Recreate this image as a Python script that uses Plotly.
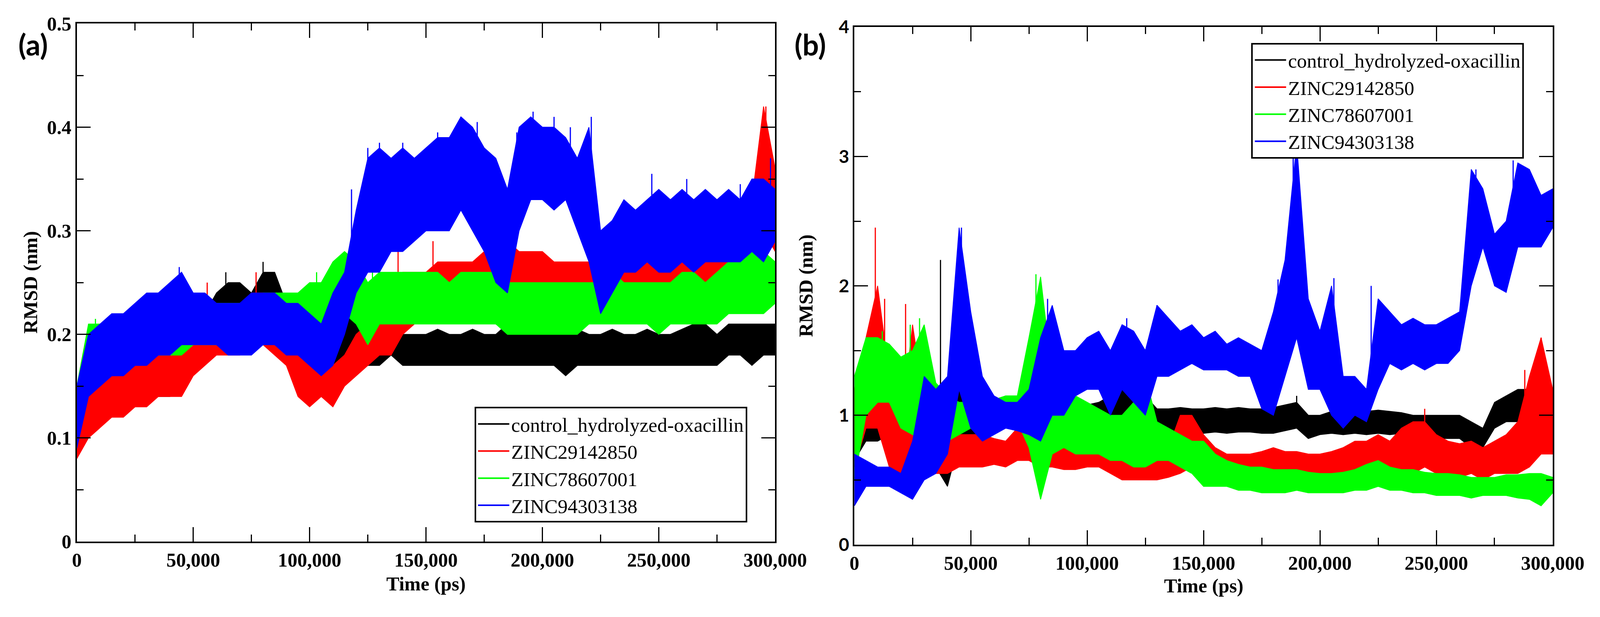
import plotly.graph_objects as go

# === Tiempo (ps): lectura cada 5,000 ps ===
TIME = [0, 5000, 10000, 15000, 20000, 25000, 30000, 35000, 40000, 45000,
        50000, 55000, 60000, 65000, 70000, 75000, 80000, 85000, 90000, 95000,
        100000, 105000, 110000, 115000, 120000, 125000, 130000, 135000, 140000, 145000,
        150000, 155000, 160000, 165000, 170000, 175000, 180000, 185000, 190000, 195000,
        200000, 205000, 210000, 215000, 220000, 225000, 230000, 235000, 240000, 245000,
        250000, 255000, 260000, 265000, 270000, 275000, 280000, 285000, 290000, 295000,
        300000]

NAMES = ['control_hydrolyzed-oxacillin', 'ZINC29142850', 'ZINC78607001', 'ZINC94303138']
COLORS = ['#000000', '#ff0000', '#00ff00', '#0000ff']

# === Panel (a): envolvente min / max del RMSD (nm) ===
A_BLACK_LO = [0.08, 0.12, 0.13, 0.14, 0.14, 0.14, 0.14, 0.14, 0.14, 0.15,
              0.17, 0.18, 0.19, 0.20, 0.20, 0.20, 0.21, 0.20, 0.19, 0.18,
              0.18, 0.18, 0.17, 0.18, 0.18, 0.17, 0.17, 0.18, 0.17, 0.17,
              0.17, 0.17, 0.17, 0.17, 0.17, 0.17, 0.17, 0.17, 0.17, 0.17,
              0.17, 0.17, 0.16, 0.17, 0.17, 0.17, 0.17, 0.17, 0.17, 0.17,
              0.17, 0.17, 0.17, 0.17, 0.17, 0.17, 0.18, 0.18, 0.17, 0.18,
              0.18]
A_BLACK_HI = [0.12, 0.15, 0.16, 0.17, 0.17, 0.17, 0.17, 0.17, 0.18, 0.19,
              0.21, 0.22, 0.24, 0.25, 0.25, 0.24, 0.26, 0.26, 0.23, 0.22,
              0.22, 0.22, 0.21, 0.23, 0.22, 0.21, 0.21, 0.22, 0.20, 0.20,
              0.20, 0.205, 0.20, 0.20, 0.205, 0.20, 0.20, 0.21, 0.215, 0.20,
              0.205, 0.20, 0.20, 0.205, 0.20, 0.20, 0.205, 0.20, 0.20, 0.205,
              0.20, 0.20, 0.205, 0.21, 0.21, 0.20, 0.21, 0.21, 0.21, 0.21,
              0.21]
A_RED_LO = [0.08, 0.10, 0.11, 0.12, 0.12, 0.13, 0.13, 0.14, 0.14, 0.14,
            0.16, 0.17, 0.18, 0.18, 0.18, 0.19, 0.19, 0.18, 0.17, 0.14,
            0.13, 0.14, 0.13, 0.15, 0.16, 0.17, 0.18, 0.18, 0.20, 0.21,
            0.22, 0.22, 0.22, 0.22, 0.22, 0.22, 0.22, 0.23, 0.23, 0.23,
            0.22, 0.22, 0.22, 0.22, 0.22, 0.22, 0.23, 0.22, 0.22, 0.22,
            0.22, 0.22, 0.23, 0.23, 0.23, 0.24, 0.24, 0.24, 0.26, 0.30,
            0.28]
A_RED_HI = [0.12, 0.14, 0.15, 0.16, 0.17, 0.17, 0.18, 0.18, 0.18, 0.19,
            0.21, 0.22, 0.23, 0.22, 0.22, 0.24, 0.24, 0.22, 0.21, 0.18,
            0.17, 0.17, 0.17, 0.18, 0.20, 0.21, 0.22, 0.23, 0.26, 0.26,
            0.26, 0.27, 0.27, 0.27, 0.27, 0.28, 0.28, 0.29, 0.28, 0.28,
            0.28, 0.27, 0.27, 0.27, 0.27, 0.27, 0.29, 0.27, 0.27, 0.27,
            0.27, 0.27, 0.28, 0.28, 0.28, 0.29, 0.29, 0.30, 0.33, 0.42,
            0.36]
A_GREEN_LO = [0.09, 0.15, 0.16, 0.17, 0.17, 0.17, 0.18, 0.18, 0.18, 0.18,
              0.19, 0.19, 0.19, 0.19, 0.19, 0.19, 0.19, 0.20, 0.20, 0.20,
              0.20, 0.21, 0.21, 0.22, 0.21, 0.19, 0.21, 0.21, 0.21, 0.21,
              0.21, 0.21, 0.21, 0.21, 0.21, 0.21, 0.21, 0.20, 0.20, 0.20,
              0.20, 0.20, 0.20, 0.20, 0.21, 0.21, 0.21, 0.21, 0.21, 0.21,
              0.20, 0.21, 0.21, 0.21, 0.21, 0.21, 0.22, 0.22, 0.22, 0.22,
              0.23]
A_GREEN_HI = [0.15, 0.21, 0.21, 0.21, 0.21, 0.22, 0.22, 0.22, 0.22, 0.23,
              0.23, 0.23, 0.23, 0.23, 0.23, 0.23, 0.24, 0.24, 0.24, 0.24,
              0.25, 0.25, 0.27, 0.28, 0.27, 0.25, 0.26, 0.26, 0.26, 0.26,
              0.26, 0.26, 0.25, 0.26, 0.26, 0.26, 0.26, 0.25, 0.25, 0.25,
              0.25, 0.25, 0.25, 0.25, 0.25, 0.25, 0.26, 0.25, 0.25, 0.25,
              0.25, 0.25, 0.26, 0.26, 0.25, 0.26, 0.27, 0.27, 0.28, 0.28,
              0.27]
A_BLUE_LO = [0.09, 0.14, 0.15, 0.16, 0.16, 0.17, 0.17, 0.18, 0.18, 0.19,
             0.19, 0.19, 0.19, 0.18, 0.18, 0.18, 0.19, 0.19, 0.18, 0.18,
             0.17, 0.16, 0.17, 0.20, 0.24, 0.26, 0.26, 0.28, 0.28, 0.29,
             0.30, 0.30, 0.30, 0.32, 0.30, 0.28, 0.25, 0.24, 0.30, 0.33,
             0.33, 0.32, 0.33, 0.30, 0.27, 0.22, 0.24, 0.26, 0.26, 0.27,
             0.26, 0.26, 0.27, 0.26, 0.27, 0.27, 0.27, 0.27, 0.28, 0.27,
             0.29]
A_BLUE_HI = [0.15, 0.20, 0.21, 0.22, 0.22, 0.23, 0.24, 0.24, 0.25, 0.26,
             0.24, 0.24, 0.23, 0.23, 0.23, 0.24, 0.24, 0.24, 0.23, 0.23,
             0.22, 0.21, 0.24, 0.26, 0.32, 0.37, 0.38, 0.37, 0.38, 0.37,
             0.38, 0.39, 0.39, 0.41, 0.40, 0.38, 0.37, 0.34, 0.40, 0.41,
             0.40, 0.40, 0.39, 0.37, 0.40, 0.30, 0.31, 0.33, 0.32, 0.33,
             0.34, 0.33, 0.34, 0.33, 0.34, 0.33, 0.34, 0.33, 0.35, 0.35,
             0.34]

# picos sueltos (tiempo, min, max)
A_SPIKES = [
    [(64000, 0.20, 0.26), (80000, 0.22, 0.27), (122000, 0.20, 0.245),
     (188000, 0.19, 0.22)],
    [(56000, 0.19, 0.25), (77000, 0.20, 0.26), (138000, 0.22, 0.29),
     (153000, 0.24, 0.29), (186000, 0.25, 0.295), (233000, 0.25, 0.30),
     (270000, 0.25, 0.30), (296000, 0.35, 0.42)],
    [(8000, 0.18, 0.215), (103000, 0.22, 0.26), (118000, 0.24, 0.285),
     (127000, 0.22, 0.27), (282000, 0.24, 0.285)],
    [(44000, 0.22, 0.265), (118000, 0.26, 0.34), (125000, 0.30, 0.38),
     (130000, 0.30, 0.385), (140000, 0.30, 0.385), (155000, 0.33, 0.395),
     (165000, 0.35, 0.41), (172000, 0.33, 0.405), (189000, 0.30, 0.395),
     (196000, 0.36, 0.415), (205000, 0.34, 0.41), (212000, 0.33, 0.40),
     (221000, 0.30, 0.41), (247000, 0.28, 0.355), (262000, 0.28, 0.35),
     (285000, 0.28, 0.345), (298000, 0.30, 0.37)],
]

# === Panel (b): envolvente min / max del RMSD (nm) ===
B_BLACK_LO = [0.65, 0.80, 0.80, 0.85, 0.60, 0.60, 0.70, 0.60, 0.45, 0.80,
              0.80, 0.90, 0.90, 0.95, 0.95, 0.95, 0.95, 0.95, 0.95, 0.95,
              0.95, 0.95, 0.85, 0.95, 0.90, 0.75, 0.85, 0.85, 0.86, 0.86,
              0.86, 0.87, 0.86, 0.87, 0.87, 0.86, 0.86, 0.88, 0.90, 0.82,
              0.85, 0.86, 0.85, 0.86, 0.85, 0.86, 0.85, 0.86, 0.84, 0.82,
              0.82, 0.82, 0.82, 0.75, 0.75, 0.90, 0.95, 0.95, 0.95, 0.95,
              0.95]
B_BLACK_HI = [1.20, 1.30, 1.35, 1.30, 1.20, 1.40, 1.30, 1.20, 1.00, 1.20,
              1.40, 1.10, 1.10, 1.10, 1.10, 1.10, 1.10, 1.10, 1.10, 1.10,
              1.08, 1.10, 1.15, 1.35, 1.30, 1.15, 1.05, 1.05, 1.06, 1.05,
              1.05, 1.06, 1.05, 1.06, 1.05, 1.05, 1.06, 1.08, 1.10, 1.00,
              1.00, 1.03, 1.04, 1.03, 1.03, 1.04, 1.03, 1.02, 1.00, 1.00,
              1.00, 1.00, 1.00, 0.95, 0.90, 1.10, 1.15, 1.20, 1.20, 1.15,
              1.20]
B_RED_LO = [0.60, 0.90, 0.90, 0.60, 0.50, 0.60, 0.60, 0.55, 0.55, 0.60,
            0.60, 0.60, 0.62, 0.60, 0.65, 0.65, 0.60, 0.60, 0.58, 0.58,
            0.60, 0.60, 0.55, 0.50, 0.50, 0.50, 0.50, 0.52, 0.55, 0.60,
            0.55, 0.52, 0.48, 0.45, 0.48, 0.50, 0.52, 0.50, 0.52, 0.50,
            0.50, 0.52, 0.52, 0.55, 0.55, 0.55, 0.55, 0.55, 0.55, 0.60,
            0.55, 0.55, 0.52, 0.55, 0.50, 0.55, 0.55, 0.55, 0.60, 0.70,
            0.70]
B_RED_HI = [1.20, 1.60, 2.00, 1.30, 0.90, 1.70, 1.10, 0.85, 0.80, 0.85,
            0.85, 0.85, 0.82, 0.80, 0.90, 0.90, 0.85, 0.80, 0.80, 0.82,
            0.85, 0.80, 0.75, 0.75, 0.70, 0.72, 0.75, 0.75, 1.00, 1.00,
            0.85, 0.75, 0.70, 0.70, 0.70, 0.72, 0.75, 0.72, 0.72, 0.70,
            0.70, 0.72, 0.75, 0.80, 0.80, 0.85, 0.80, 0.90, 0.95, 0.95,
            0.85, 0.80, 0.78, 0.80, 0.75, 0.80, 0.85, 0.95, 1.30, 1.60,
            1.20]
B_GREEN_LO = [0.50, 1.00, 1.10, 1.10, 0.90, 0.85, 0.80, 0.70, 0.80, 0.85,
              0.90, 0.95, 0.95, 0.95, 0.95, 0.75, 0.35, 0.70, 0.75, 0.70,
              0.70, 0.70, 0.65, 0.65, 0.60, 0.60, 0.65, 0.65, 0.60, 0.55,
              0.45, 0.45, 0.45, 0.42, 0.42, 0.40, 0.40, 0.40, 0.42, 0.40,
              0.40, 0.40, 0.40, 0.42, 0.42, 0.45, 0.42, 0.42, 0.40, 0.40,
              0.38, 0.38, 0.38, 0.36, 0.38, 0.38, 0.38, 0.36, 0.35, 0.30,
              0.40]
B_GREEN_HI = [1.30, 1.60, 1.60, 1.55, 1.45, 1.50, 1.70, 1.25, 1.15, 1.10,
              1.10, 1.10, 1.12, 1.15, 1.15, 1.60, 2.07, 1.30, 1.20, 1.15,
              1.10, 1.05, 1.00, 1.00, 1.10, 1.30, 0.95, 0.90, 0.85, 0.80,
              0.80, 0.70, 0.65, 0.62, 0.60, 0.60, 0.58, 0.58, 0.58, 0.56,
              0.55, 0.55, 0.56, 0.58, 0.62, 0.65, 0.60, 0.58, 0.58, 0.56,
              0.55, 0.55, 0.54, 0.52, 0.52, 0.52, 0.54, 0.54, 0.55, 0.55,
              0.52]
B_BLUE_LO = [0.30, 0.45, 0.45, 0.45, 0.40, 0.35, 0.50, 0.55, 0.70, 1.20,
             0.90, 0.80, 0.85, 0.90, 0.88, 0.85, 0.80, 1.00, 1.00, 1.15,
             1.20, 1.20, 1.00, 1.20, 1.10, 1.00, 1.30, 1.30, 1.35, 1.40,
             1.35, 1.35, 1.35, 1.30, 1.30, 1.05, 1.00, 1.30, 1.60, 1.20,
             1.20, 1.00, 0.90, 1.00, 0.95, 1.20, 1.40, 1.35, 1.40, 1.35,
             1.40, 1.40, 1.50, 2.00, 2.30, 2.00, 1.95, 2.30, 2.30, 2.30,
             2.45]
B_BLUE_HI = [0.70, 0.65, 0.60, 0.60, 0.55, 0.80, 1.30, 1.20, 1.30, 2.45,
             1.80, 1.30, 1.15, 1.10, 1.10, 1.20, 1.60, 1.85, 1.50, 1.50,
             1.60, 1.65, 1.50, 1.70, 1.65, 1.50, 1.85, 1.75, 1.65, 1.70,
             1.60, 1.65, 1.55, 1.60, 1.55, 1.50, 1.80, 2.20, 3.10, 1.90,
             1.65, 2.00, 1.30, 1.30, 1.20, 1.90, 1.80, 1.70, 1.75, 1.70,
             1.70, 1.75, 1.80, 2.90, 2.75, 2.40, 2.50, 2.95, 2.90, 2.70,
             2.75]

B_SPIKES = [
    [(5000, 0.90, 1.45), (30000, 1.00, 1.65), (37000, 0.90, 2.20),
     (50000, 1.00, 1.45), (125000, 0.90, 1.35), (190000, 0.95, 1.15)],
    [(9000, 1.20, 2.45), (13000, 1.00, 1.90), (22000, 0.70, 1.86),
     (245000, 0.70, 1.05), (288000, 0.80, 1.35), (295000, 1.00, 1.60)],
    [(12000, 1.20, 1.65), (24000, 1.00, 1.70), (28000, 1.00, 1.75),
     (78000, 1.00, 2.09), (125000, 0.90, 1.30)],
    [(46000, 1.50, 2.45), (83000, 1.20, 1.90), (117000, 1.30, 1.75),
     (130000, 1.50, 1.85), (180000, 1.30, 1.75), (182000, 1.30, 2.05),
     (188500, 2.00, 3.10), (193000, 1.50, 2.30), (206000, 1.20, 2.06),
     (222000, 1.30, 2.00), (267000, 2.30, 2.90), (283000, 2.40, 2.97),
     (288000, 2.30, 2.92)],
]

A_LO = [A_BLACK_LO, A_RED_LO, A_GREEN_LO, A_BLUE_LO]
A_HI = [A_BLACK_HI, A_RED_HI, A_GREEN_HI, A_BLUE_HI]
B_LO = [B_BLACK_LO, B_RED_LO, B_GREEN_LO, B_BLUE_LO]
B_HI = [B_BLACK_HI, B_RED_HI, B_GREEN_HI, B_BLUE_HI]

# posiciones medidas sobre la figura original (4368 x 1579)
RW, RH = 4368, 1579
# la ventana real del navegador mide 4096 px de ancho: la figura se ajusta a ella
FW, FH = 4080, 1563
SERIF = 'Liberation Serif'
SANS = 'Lato'

fig = go.Figure()


def add_panel(lo_list, hi_list, spikes, xa, ya, legend_id):
    for i in range(4):
        lo, hi = lo_list[i], hi_list[i]
        fig.add_trace(go.Scatter(
            x=TIME + TIME[::-1], y=hi + lo[::-1],
            mode='lines', fill='toself', fillcolor=COLORS[i],
            line=dict(color=COLORS[i], width=2),
            xaxis=xa, yaxis=ya, showlegend=False, hoverinfo='skip'))
        sx, sy = [], []
        for t, a, b in spikes[i]:
            sx += [t, t, None]
            sy += [a, b, None]
        fig.add_trace(go.Scatter(
            x=sx, y=sy, mode='lines', line=dict(color=COLORS[i], width=3),
            xaxis=xa, yaxis=ya, showlegend=False, hoverinfo='skip'))
    # entradas de leyenda (solo linea)
    for i in range(4):
        fig.add_trace(go.Scatter(
            x=[None], y=[None], mode='lines', name=NAMES[i],
            line=dict(color=COLORS[i], width=4),
            xaxis=xa, yaxis=ya, legend=legend_id))


add_panel(A_LO, A_HI, A_SPIKES, 'x', 'y', 'legend')
add_panel(B_LO, B_HI, B_SPIKES, 'x2', 'y2', 'legend2')

tick_serif = dict(family=SERIF, size=50, color='black', weight='bold')
axis_base = dict(showline=True, linecolor='black', linewidth=4, mirror='allticks',
                 ticks='inside', tickwidth=3, tickcolor='black',
                 showgrid=False, zeroline=False, automargin=False)

xa = dict(axis_base, range=[0, 300000], dtick=50000, tick0=0, tickformat=',d',
          ticklen=37, tickfont=tick_serif,
          minor=dict(ticks='inside', ticklen=18, tickwidth=3, tickcolor='black', dtick=25000))
ya_minor = dict(ticks='inside', ticklen=17, tickwidth=3, tickcolor='black')
legend_font = dict(family=SERIF, size=51, color='black')

fig.update_layout(
    width=FW, height=FH, autosize=False,
    margin=dict(l=0, r=0, t=0, b=0, autoexpand=False),
    paper_bgcolor='white', plot_bgcolor='white',
    xaxis=dict(xa, domain=[202 / RW, 2116 / RW], anchor='y'),
    yaxis=dict(axis_base, domain=[(RH - 1392) / RH, (RH - 53) / RH], anchor='x',
               range=[0, 0.5], dtick=0.1, tick0=0, ticklen=35, tickfont=tick_serif,
               minor=dict(ya_minor, dtick=0.05)),
    xaxis2=dict(xa, domain=[2333 / RW, 4247 / RW], anchor='y2'),
    yaxis2=dict(axis_base, domain=[(RH - 1400) / RH, (RH - 62) / RH], anchor='x2',
                range=[0, 4], dtick=1, tick0=0, ticklen=35,
                tickfont=dict(family=SANS, size=46, color='black', weight='bold'),
                minor=dict(ya_minor, dtick=0.5)),
    legend=dict(x=1292 / RW, y=(RH - 1044) / RH, xanchor='left', yanchor='top',
                bgcolor='white', bordercolor='black', borderwidth=4,
                font=legend_font, itemwidth=80),
    legend2=dict(x=3421 / RW, y=(RH - 103) / RH, xanchor='left', yanchor='top',
                 bgcolor='white', bordercolor='black', borderwidth=4,
                 font=legend_font, itemwidth=80),
    showlegend=True,
)

title_font = dict(family=SERIF, size=50, color='black', weight='bold')
panel_font = dict(family=SANS, size=74, color='black', weight='bold')
notes = [
    dict(text='(a)', x=82 / RW, y=(RH - 107) / RH, font=panel_font),
    dict(text='(b)', x=2212 / RW, y=(RH - 107) / RH, font=panel_font),
    dict(text='RMSD (nm)', x=75 / RW, y=(RH - 722) / RH, font=title_font, textangle=-90),
    dict(text='RMSD (nm)', x=2200 / RW, y=(RH - 731) / RH, font=title_font, textangle=-90),
    dict(text='Time (ps)', x=1159 / RW, y=(RH - 1501) / RH, font=title_font),
    dict(text='Time (ps)', x=3290 / RW, y=(RH - 1506) / RH, font=title_font),
]
for n in notes:
    fig.add_annotation(xref='paper', yref='paper', showarrow=False,
                       xanchor='center', yanchor='middle', **n)

fig.write_html("out.html")
